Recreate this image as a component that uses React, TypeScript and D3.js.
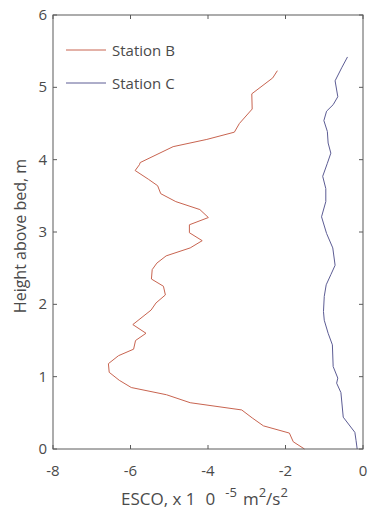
import React from "react";
import * as d3 from "d3";

// Station B profile: ESCO (x1e-5 m^2/s^2) vs height above bed (m)
const heightB = [
  5.23, 5.13, 4.91, 4.7, 4.5, 4.38, 4.28, 4.18, 3.96, 3.93, 3.85, 3.73, 3.64, 3.53, 3.42, 3.31,
  3.2, 3.1, 2.99, 2.88, 2.78, 2.67, 2.57, 2.48, 2.35, 2.25, 2.13, 2.02, 1.92, 1.72, 1.6, 1.5,
  1.38, 1.29, 1.18, 1.06, 0.95, 0.85, 0.75, 0.64, 0.54, 0.43, 0.32, 0.22, 0.1, 0.0,
];
const escoB = [
  -2.21, -2.33, -2.87, -2.86, -3.19, -3.32, -4.03, -4.9, -5.75, -5.77, -5.88, -5.54, -5.3, -5.22,
  -4.83, -4.21, -3.99, -4.48, -4.48, -4.15, -4.46, -5.08, -5.32, -5.44, -5.46, -5.15, -5.1, -5.34,
  -5.47, -5.94, -5.6, -5.87, -5.92, -6.31, -6.57, -6.55, -6.29, -5.98, -5.07, -4.46, -3.13, -2.86,
  -2.57, -1.9, -1.8, -1.51,
];

// Station C profile
const heightC = [
  5.42, 5.27, 5.09, 4.87, 4.76, 4.67, 4.54, 4.39, 4.23, 4.09, 3.95, 3.77, 3.6, 3.42, 3.21, 2.98,
  2.78, 2.54, 2.41, 2.27, 2.11, 1.9, 1.78, 1.6, 1.44, 1.14, 0.98, 0.91, 0.78, 0.44, 0.23, 0.12, 0.0,
];
const escoC = [
  -0.4, -0.55, -0.72, -0.65, -0.77, -0.94, -1.01, -0.92, -0.9, -0.83, -0.92, -1.04, -0.96, -0.96,
  -1.07, -0.94, -0.78, -0.72, -0.83, -0.95, -1.0, -1.02, -1.0, -0.9, -0.79, -0.77, -0.65, -0.68,
  -0.57, -0.51, -0.21, -0.18, -0.15,
];

const xTicks = [-8, -6, -4, -2, 0];
const yTicks = [0, 1, 2, 3, 4, 5, 6];
const seriesNames = ["Station B", "Station C"];
const seriesColors = ["#c86450", "#5c5c94"];

const W = 368;
const H = 509;
const margin = { top: 15, right: 5, bottom: 60, left: 53 };

export default function App() {
  const x = d3.scaleLinear().domain([-8, 0]).range([margin.left, W - margin.right]);
  const y = d3.scaleLinear().domain([0, 6]).range([H - margin.bottom, margin.top]);

  const line = d3
    .line<[number, number]>()
    .x((d) => x(d[0]))
    .y((d) => y(d[1]));

  const dataB = escoB.map((v, i) => [v, heightB[i]] as [number, number]);
  const dataC = escoC.map((v, i) => [v, heightC[i]] as [number, number]);
  const series = [dataB, dataC];

  const x0 = margin.left;
  const x1 = W - margin.right;
  const y0 = H - margin.bottom;
  const y1 = margin.top;
  const tick = 4;
  const axisColor = "#5a5a5a";
  const textColor = "#4a4a4a";
  const font = "'Open Sans', 'Noto Sans', sans-serif";

  return (
    <svg width={W} height={H} style={{ position: "absolute", left: 0, top: 0 }} fontFamily={font}>
      <rect width={W} height={H} fill="#fff" />
      {series.map((d, i) => (
        <path key={i} d={line(d) || ""} fill="none" stroke={seriesColors[i]} strokeWidth={1} />
      ))}

      {/* box */}
      <rect x={x0} y={y1} width={x1 - x0} height={y0 - y1} fill="none" stroke={axisColor} strokeWidth={1} />

      {xTicks.map((t) => (
        <g key={"x" + t}>
          <line x1={x(t)} x2={x(t)} y1={y0} y2={y0 - tick} stroke={axisColor} />
          <line x1={x(t)} x2={x(t)} y1={y1} y2={y1 + tick} stroke={axisColor} />
          <text x={x(t)} y={y0 + 27} textAnchor="middle" fontSize={15} fill={textColor}>
            {t}
          </text>
        </g>
      ))}
      {yTicks.map((t) => (
        <g key={"y" + t}>
          <line x1={x0} x2={x0 + tick} y1={y(t)} y2={y(t)} stroke={axisColor} />
          <line x1={x1} x2={x1 - tick} y1={y(t)} y2={y(t)} stroke={axisColor} />
          <text x={x0 - 6} y={y(t) + 5} textAnchor="end" fontSize={15} fill={textColor}>
            {t}
          </text>
        </g>
      ))}

      <text
        transform={`translate(26,236) rotate(-90)`}
        textAnchor="middle"
        fontSize={16}
        fill={textColor}
      >
        Height above bed, m
      </text>

      <text x={121} y={505} fontSize={17} fill={textColor}>
        ESCO, x 1
        <tspan dx={10}>0</tspan>
        <tspan fontSize={13} dx={10} dy={-8}>
          -5
        </tspan>
        <tspan dx={6} dy={8}>m</tspan>
        <tspan fontSize={13} dy={-8}>
          2
        </tspan>
        <tspan dy={8}>/s</tspan>
        <tspan fontSize={13} dy={-8}>
          2
        </tspan>
      </text>

      {seriesNames.map((name, i) => (
        <g key={name} transform={`translate(66,${50 + i * 33})`}>
          <line x1={0} x2={40} y1={0} y2={0} stroke={seriesColors[i]} strokeWidth={1} />
          <text x={46} y={6} fontSize={15} fill={textColor}>
            {name}
          </text>
        </g>
      ))}
    </svg>
  );
}
